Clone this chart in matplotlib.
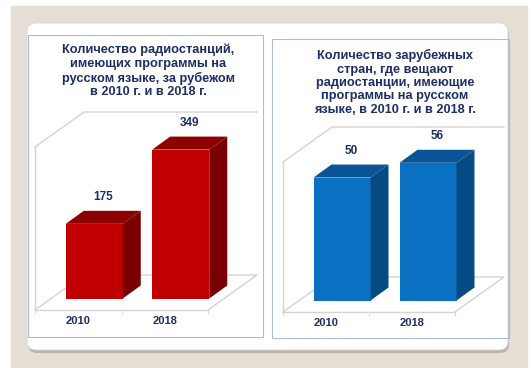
import numpy as np
import matplotlib
matplotlib.use('Agg')
import matplotlib.pyplot as plt
from matplotlib.patches import Rectangle, FancyBboxPatch, Polygon
from matplotlib.transforms import Affine2D

plt.rcParams['font.family'] = ['Liberation Sans', 'DejaVu Sans']

# data
years = ['2010', '2018']
stations = [175, 349]
countries = [50, 56]
title_left = ('Количество радиостанций,\nимеющих программы на\n'
              'русском языке, за рубежом\nв 2010 г. и в 2018 г.')
title_right = ('Количество зарубежных\nстран, где вещают\nрадиостанции, имеющие\n'
               'программы на русском\nязыке, в 2010 г. и в 2018 г.')

W, H = 532, 368
NAVY = '#1d2f66'
GRID = '#d4d4d4'

fig = plt.figure(figsize=(W / 100, H / 100), dpi=100)
fig.patch.set_facecolor('white')
# pixel coords of the picture (y down)
px = Affine2D().scale(1 / W, -1 / H).translate(0, 1) + fig.transFigure

# slide background, white panel with shadow, two framed boxes
fig.add_artist(Rectangle((11, 6), 516, 362, transform=px, color='#e4ded5', zorder=0))
fig.add_artist(FancyBboxPatch((28, 26), 481, 327, boxstyle='round,pad=0,rounding_size=9',
                              transform=px, fc='#9c9a96', ec='none', alpha=0.6, zorder=0))
fig.add_artist(FancyBboxPatch((27, 23), 481, 327, boxstyle='round,pad=0,rounding_size=9',
                              transform=px, fc='white', ec='#d8d8d8', lw=0.6, zorder=0))
fig.add_artist(Rectangle((28, 35), 235, 302, transform=px, fill=False,
                         ec='#a9bcd8', lw=0.8, zorder=1))
fig.add_artist(Rectangle((272, 39), 237, 299, transform=px, fill=False,
                         ec='#a9bcd8', lw=0.8, zorder=1))


def chart(plane, ymax, vals, front, top, side):
    x0, x1, yf, yt = plane
    ax = fig.add_axes([x0 / W, 1 - yf / H, (x1 - x0) / W, (yf - yt) / H])
    ax.set_xlim(-0.5, len(vals) - 0.5)
    ax.set_ylim(0, ymax)
    ax.patch.set_visible(False)
    kx = (x1 - x0) / len(vals)
    ky = (yf - yt) / ymax

    def d(dx, dy):
        return dx / kx, dy / ky

    # 3d walls and floor
    fx, fy = d(49, 35)
    xl, xr = -0.5, len(vals) - 0.5
    kw = dict(color=GRID, lw=1, zorder=1, clip_on=False)
    ax.plot([xl, xl + fx, xr + fx], [ymax, ymax + fy, ymax + fy], **kw)
    ax.plot([xl, xl + fx], [0, fy], **kw)
    ax.plot([xl + fx, xr + fx, xr], [fy, fy, 0], **kw)
    for s in ['top', 'right']:
        ax.spines[s].set_visible(False)
    for s in ['left', 'bottom']:
        ax.spines[s].set_color(GRID)
        ax.spines[s].set_linewidth(1)

    # bars as boxes
    ox, oy = d(16, 11.5)
    bx, by = d(18, 13)
    w = 57 / kx
    xs = np.arange(len(vals))
    ax.bar(xs + ox, vals, width=w, bottom=oy, color=front, zorder=3, clip_on=False)
    for x, v in zip(xs, vals):
        l, r, t = x + ox - w / 2, x + ox + w / 2, v + oy
        ax.add_patch(Polygon([(r, oy), (r + bx, oy + by), (r + bx, t + by), (r, t)],
                             closed=True, fc=side, ec='none', zorder=3, clip_on=False))
        ax.add_patch(Polygon([(l, t), (r, t), (r + bx, t + by), (l + bx, t + by)],
                             closed=True, fc=top, ec='none', zorder=3, clip_on=False))
        ax.annotate(str(v), (x + ox + bx / 2, t + by), xytext=(0, 14),
                    textcoords='offset pixels', ha='center', va='center',
                    fontsize=8.5, fontweight='bold', color=NAVY, annotation_clip=False)

    ax.set_xticks(xs, years)
    ax.set_xticks([xl, 0.5, xr], minor=True)
    ax.set_yticks([])
    ax.tick_params(axis='x', which='major', length=0, pad=4.5,
                   labelsize=8, labelcolor=NAVY)
    ax.tick_params(axis='x', which='minor', length=3, color=GRID)
    for lab in ax.get_xticklabels():
        lab.set_fontweight('bold')
    return ax


chart((35, 208, 310, 147), 382, stations, '#c00000', '#8c0000', '#780000')
chart((283, 455, 312, 162), 61, countries, '#0a70c2', '#0a5396', '#064a84')

fig.text(148, 71, title_left, transform=px, ha='center', va='center',
         fontsize=9.2, fontweight='bold', color=NAVY, linespacing=1.16)
fig.text(395, 82.5, title_right, transform=px, ha='center', va='center',
         fontsize=9.2, fontweight='bold', color=NAVY, linespacing=1.16)

fig.savefig('out.png', dpi=100)
